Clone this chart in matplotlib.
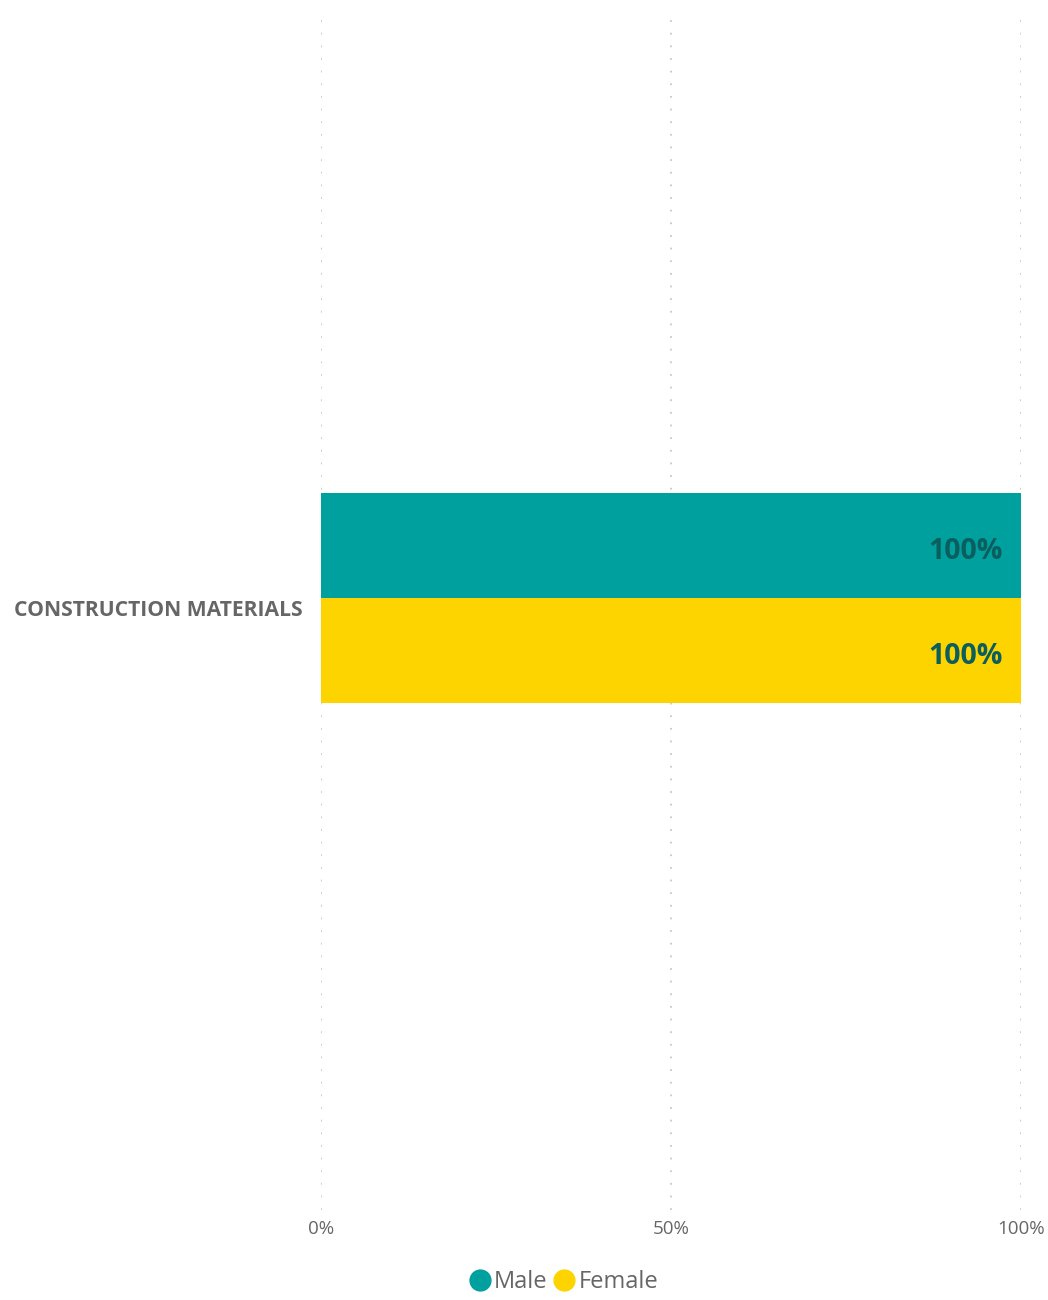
import matplotlib
matplotlib.use("Agg")
import matplotlib.pyplot as plt
import matplotlib.transforms as mtransforms
from matplotlib.lines import Line2D

categories = ["CONSTRUCTION MATERIALS"]
male = [100]
female = [100]
series_names = ["Male", "Female"]
xticks = [0, 50, 100]
xtick_labels = ["0%", "50%", "100%"]

teal = "#00A09F"
yellow = "#FDD400"
grey = "#666666"

plt.rcParams['font.family'] = ['Open Sans', 'DejaVu Sans']

fig = plt.figure(figsize=(10.48, 13.0), dpi=100)
ax = fig.add_axes([321 / 1048, 1 - 1210 / 1300, 700 / 1048, 1195 / 1300])

h = 0.5
ax.barh([0.25], male, height=h, color=teal, zorder=2)
ax.barh([-0.25], female, height=h, color=yellow, zorder=2)

# labels sit a bit below the bar centre in the original
down = mtransforms.ScaledTranslation(0, -6 / 100, fig.dpi_scale_trans)
for v in male:
    ax.text(v - 2.6, 0.25, f"{v}%", ha='right', va='center', fontsize=20.5,
            fontweight='bold', color='#0B5E5E', zorder=3,
            transform=ax.transData + down)
for v in female:
    ax.text(v - 2.6, -0.25, f"{v}%", ha='right', va='center', fontsize=20.5,
            fontweight='bold', color='#0B5E5E', zorder=3,
            transform=ax.transData + down)

ax.set_xlim(0, 100)
ax.set_ylim(-612 / 210, 583 / 210)

for x in xticks:
    ax.axvline(x, color='#C8C8C8', lw=1.3, ls=(0, (1, 6)), zorder=1)

ax.set_xticks(xticks)
ax.set_xticklabels(xtick_labels, fontsize=13.5, color=grey)
ax.tick_params(axis='x', length=0, pad=7)
ax.set_yticks([0])
ax.set_yticklabels(categories, fontsize=15.2, fontweight='bold', color=grey)
ax.tick_params(axis='y', length=0, pad=13)
ydown = mtransforms.ScaledTranslation(0, -10 / 100, fig.dpi_scale_trans)
for lab in ax.get_yticklabels():
    lab.set_transform(lab.get_transform() + ydown)
for s in ax.spines.values():
    s.set_visible(False)

handles = [Line2D([], [], marker='o', ls='', markersize=15, color=c)
           for c in (teal, yellow)]
fig.legend(handles, series_names, loc='center', bbox_to_anchor=(563 / 1048, 1 - 1282 / 1300),
           ncol=2, frameon=False, fontsize=17, labelcolor=grey, handletextpad=0.1,
           columnspacing=0.2, handlelength=1.0)

fig.savefig("out.png", dpi=100, facecolor='white')
